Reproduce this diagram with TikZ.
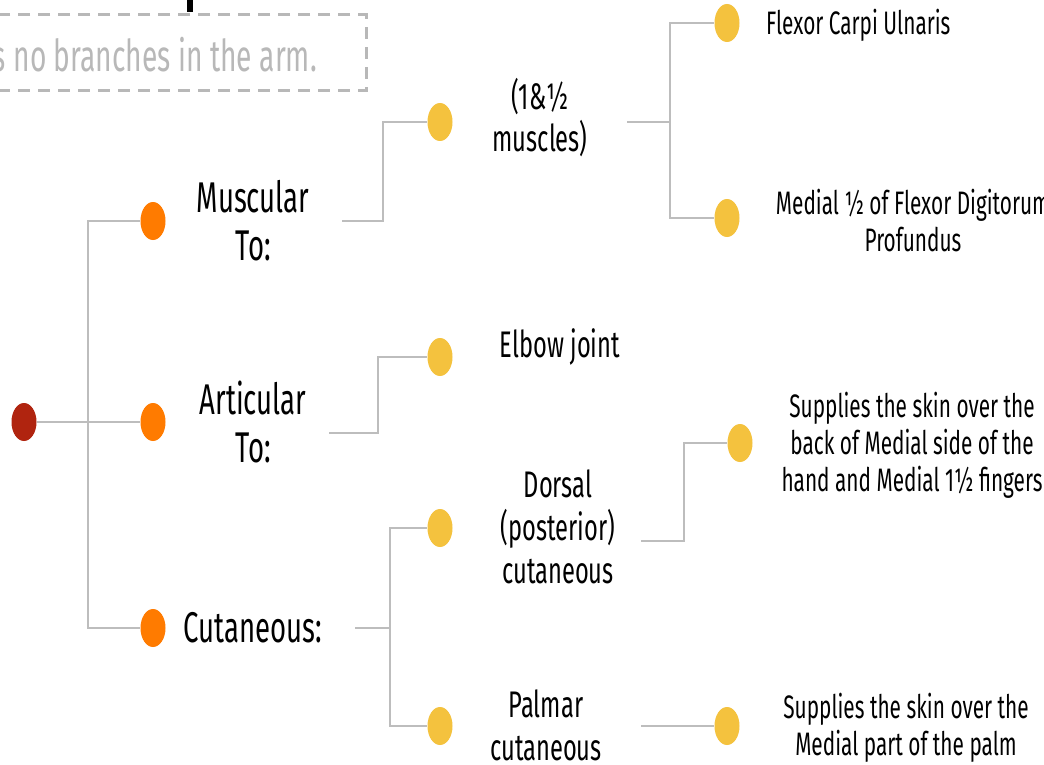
\documentclass[tikz,border=0pt]{standalone}
\usepackage{fontspec}
\setmainfont{Fira Sans}[FakeStretch=0.64]
\usetikzlibrary{shapes.geometric}
\definecolor{rootred}{HTML}{B0240F}
\definecolor{branchorange}{HTML}{FF7B00}
\definecolor{leafyellow}{HTML}{F4C23E}
\definecolor{linegray}{HTML}{BDBDBD}
\definecolor{notegray}{HTML}{B8B8B8}
\tikzset{
  dot/.style={ellipse, minimum width=25pt, minimum height=38pt, inner sep=0pt, draw=none},
  rootdot/.style={dot, fill=rootred},
  odot/.style={dot, fill=branchorange},
  ydot/.style={dot, fill=leafyellow},
  conn/.style={draw=linegray, line width=1.8pt},
  % base anchor of a multi-line node sits on its last line
  bigtxt/.style={font=\fontsize{43}{48}\selectfont, align=center, inner sep=0pt, anchor=base},
  midtxt/.style={font=\fontsize{37}{43}\selectfont, align=center, inner sep=0pt, anchor=base},
  smalltxt/.style={font=\fontsize{32.5}{37}\selectfont, align=center, inner sep=0pt, anchor=base},
}
\begin{document}
\begin{tikzpicture}[x=1pt, y=-1pt]
\useasboundingbox (0,0) rectangle (1044,765);
\clip (0,0) rectangle (1044,765);
\fill[white] (0,0) rectangle (1044,765);

% note box and title descender
\fill[black] (187,-2) rectangle (193,12);
\draw[notegray, line width=3pt, dash pattern=on 12pt off 8pt] (-6,15) rectangle (366,91);
\node[font=\fontsize{44}{48}\selectfont, text=notegray, inner sep=0pt, anchor=base east] (note) at (317,72) {It has no branches in the arm.};

% dots
\node[rootdot] (root) at (24,422) {};
\node[odot] (musc) at (153,221) {};
\node[odot] (artic) at (153,422) {};
\node[odot] (cutan) at (153,628) {};
\node[ydot] (msc) at (440,122) {};
\node[ydot] (elbow) at (440,357) {};
\node[ydot] (dors) at (440,528) {};
\node[ydot] (palm) at (440,726) {};
\node[ydot] (fcu) at (727,23) {};
\node[ydot] (fdp) at (727,218) {};
\node[ydot] (dskin) at (740,443) {};
\node[ydot] (pskin) at (727,726) {};

% labels
\node[bigtxt] (tmusc) at (253,260) {Muscular\\To:};
\node[bigtxt] (tartic) at (253,462) {Articular\\To:};
\node[bigtxt] (tcutan) at (253,642) {Cutaneous:};
\node[midtxt] (tmsc) at (540,152) {(1\&½\\muscles)};
\node[midtxt] (telbow) at (560,357) {Elbow joint};
\node[midtxt] (tdors) at (558,583) {Dorsal\\(posterior)\\cutaneous};
\node[midtxt] (tpalm) at (546,760) {Palmar\\cutaneous};
\node[smalltxt, anchor=base west] (tfcu) at (766,35) {Flexor Carpi Ulnaris};
\node[smalltxt] (tfdp) at (913,251) {Medial ½ of Flexor Digitorum\\Profundus};
\node[smalltxt] (tdskin) at (912,491) {Supplies the skin over the\\back of Medial side of the\\hand and Medial 1½ fingers};
\node[smalltxt] (tpskin) at (906,755) {Supplies the skin over the\\Medial part of the palm};

% connector start points
\coordinate (trunk) at (88,422);
\coordinate (smusc) at (342,221);
\coordinate (sartic) at (329,433);
\coordinate (scutan) at (355,628);
\coordinate (smsc) at (627,122);
\coordinate (sdors) at (641,541);
\coordinate (spalm) at (641,726);

% connectors
\draw[conn] (root) -- (artic);
\draw[conn] (musc) -| (trunk) |- (cutan);
\draw[conn] (smusc) -- ++(41,0) |- (msc);
\draw[conn] (sartic) -- ++(49,0) |- (elbow);
\draw[conn] (scutan) -- ++(35,0) |- (dors);
\draw[conn] (scutan) -- ++(35,0) |- (palm);
\draw[conn] (smsc) -- ++(43,0) |- (fcu);
\draw[conn] (smsc) -- ++(43,0) |- (fdp);
\draw[conn] (sdors) -- ++(43,0) |- (dskin);
\draw[conn] (spalm) -- (pskin);
\end{tikzpicture}
\end{document}
